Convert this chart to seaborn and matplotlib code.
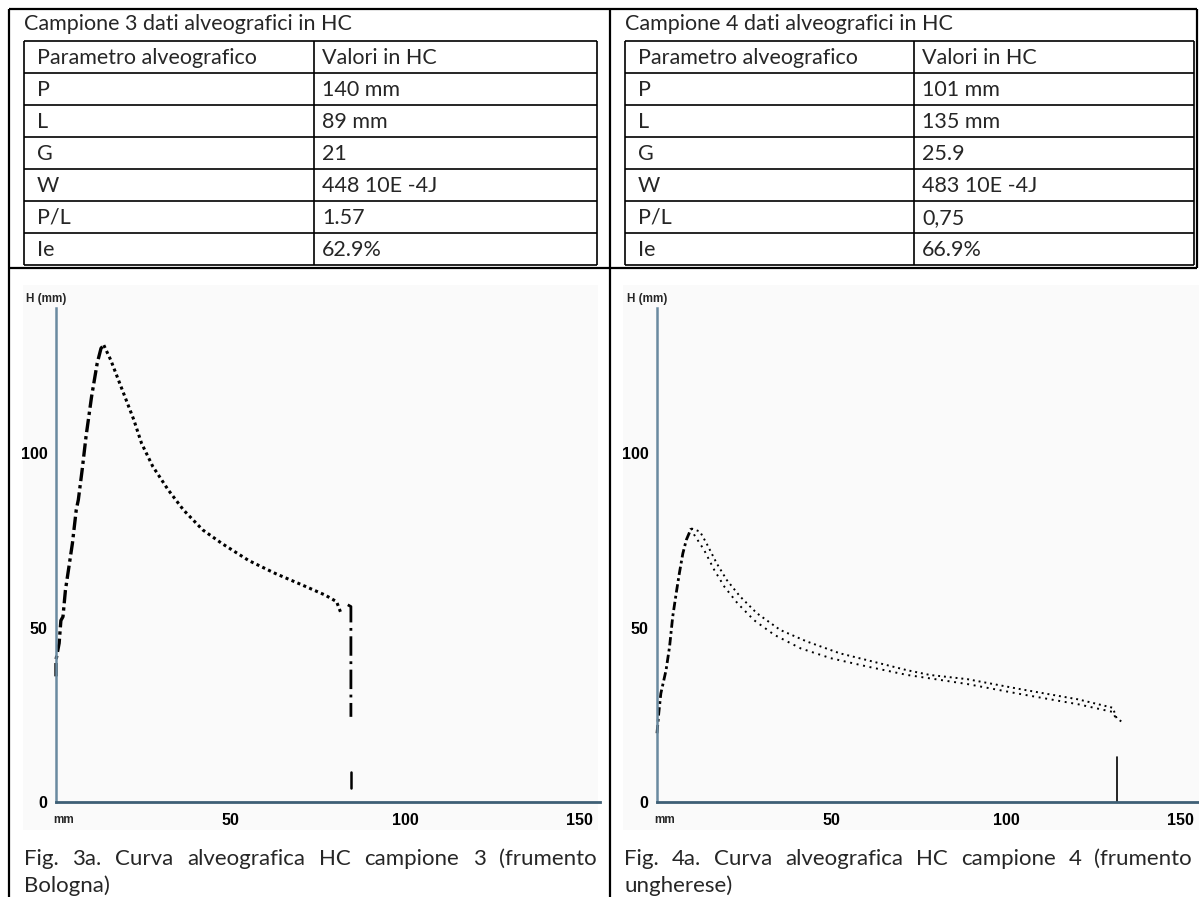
import matplotlib
matplotlib.use('Agg')
import matplotlib.pyplot as plt
import seaborn as sns
import pandas as pd

sns.set_theme(style='white')
plt.rcParams['font.family'] = ['Lato', 'DejaVu Sans']

# ---- table data ----
table_titles = ['Campione 3 dati alveografici in HC', 'Campione 4 dati alveografici in HC']
header = ['Parametro alveografico', 'Valori in HC']
param_names = ['P', 'L', 'G', 'W', 'P/L', 'Ie']
values_c3 = ['140 mm', '89 mm', '21', '448 10E -4J', '1.57', '62.9%']
values_c4 = ['101 mm', '135 mm', '25.9', '483 10E -4J', '0,75', '66.9%']

captions = [
    ['Fig. 3a. Curva alveografica HC campione 3 (frumento', 'Bologna)'],
    ['Fig. 4a. Curva alveografica HC campione 4 (frumento', 'ungherese)'],
]

# ---- curve data (mm) ----
c3_rise_x = [0, 0, 0.9, 1.4, 2.0, 2.7, 3.6, 4.7, 5.8, 6.4, 7.5, 8.6, 10.2, 11.8, 12.9, 13.7]
c3_rise_y = [36, 40.7, 45.5, 52, 53.1, 60.7, 66.7, 74.1, 83.7, 86.6, 95.2, 104.7, 116.2, 125.7, 130, 130.9]
c3_fall_x = [13.7, 15.7, 17.9, 20.1, 22.3, 24.5, 27.7, 32.1, 36.5, 42.0, 47.5, 55.2, 62.8, 70.5, 77.1, 80.4, 81.5]
c3_fall_y = [130.9, 126.6, 120.9, 115.2, 109.5, 102.8, 96.2, 89.5, 83.7, 78.0, 74.1, 69.2, 65.5, 62.2, 59.3, 57.4, 54.5]
c3_drop_x = [83.6, 84.5, 84.5]
c3_drop_y = [56.5, 56.0, 24.4]
c3_mark_x = [84.5, 84.5]
c3_mark_y = [8.7, 3.9]

c4_rise_x = [0, 0.5, 1.1, 2.6, 3.6, 4.5, 5.5, 6.4, 7.4, 8.4, 9.8]
c4_rise_y = [19.7, 25.4, 31.1, 37.8, 44.5, 53.1, 59.8, 65.5, 71.2, 75.1, 78.4]
c4_outer_x = [9.8, 12.3, 14.2, 17.1, 20.0, 23.8, 28.6, 35.3, 42.9, 52.4, 62.0, 71.5, 78.2, 88.9, 104.3, 120.7, 130.6, 131.7, 133.9]
c4_outer_y = [78.4, 77.5, 74.1, 68.4, 63.6, 58.9, 54.1, 49.3, 46.0, 42.6, 40.2, 37.8, 36.4, 35.2, 32.3, 29.4, 27.0, 24.0, 22.5]
c4_inner_x = [9.8, 10.7, 13.5, 16.4, 19.3, 23.1, 27.8, 33.6, 41.2, 49.8, 60.3, 71.7, 78.4, 88.9, 104.3, 120.7, 130.6, 131.7]
c4_inner_y = [78.4, 76.5, 72.2, 66.5, 61.7, 56.9, 52.1, 47.9, 44.0, 41.2, 38.8, 36.4, 35.4, 33.8, 30.9, 28.0, 25.8, 23.5]
c4_mark_x = [131.9, 131.9]
c4_mark_y = [0, 13]

W, H = 1199, 897
fig = plt.figure(figsize=(W / 100, H / 100), dpi=100)
bg = fig.add_axes([0, 0, 1, 1], zorder=0)
bg.set_xlim(0, W)
bg.set_ylim(H, 0)
bg.axis('off')

# faint scan background of the alveograms
bg.add_patch(plt.Rectangle((23, 285), 575, 545, color='#fafafa', lw=0))
bg.add_patch(plt.Rectangle((623, 285), 576, 545, color='#fafafa', lw=0))

# outer frame
frame_kw = dict(color='black', lw=1.6)
bg.vlines([9, 610], 9, H, **frame_kw)
bg.vlines([1197], 9, 268, **frame_kw)
bg.hlines([9, 268], 9, 1197, **frame_kw)

# parameter tables
row_h = 32
top = 41
table_fs = 15.5
for i, (left, col, right, vals) in enumerate([
        (24, 314, 597, values_c3), (625, 914, 1194, values_c4)]):
    bg.text(left, 24, table_titles[i], fontsize=table_fs, va='center', ha='left')
    bottom = top + row_h * 7
    bg.hlines([top + row_h * k for k in range(8)], left, right, color='black', lw=1.2)
    bg.vlines([left, col, right], top, bottom, color='black', lw=1.2)
    rows = [header] + [[p, v] for p, v in zip(param_names, vals)]
    for k, (a, b) in enumerate(rows):
        yc = top + row_h * k + row_h / 2 + 1
        bg.text(left + 13, yc, a, fontsize=table_fs, va='center', ha='left')
        bg.text(col + 8, yc, b, fontsize=table_fs, va='center', ha='left')

# justified captions
renderer = fig.canvas.get_renderer()
for (line1, line2), (xl, xr) in zip(captions, [(24, 597), (624, 1192)]):
    words = line1.split(' ')
    texts = [bg.text(0, 859, w, fontsize=16, va='center', ha='left') for w in words]
    widths = [t.get_window_extent(renderer).width for t in texts]
    gap = (xr - xl - sum(widths)) / (len(words) - 1)
    x = xl
    for t, w in zip(texts, widths):
        t.set_x(x)
        x += w + gap
    bg.text(xl, 886, line2, fontsize=16, va='center', ha='left')

# ---- alveograms ----
px = 3.49          # pixels per mm on both axes
y_zero = 802
y_top = 290
axis_col = '#3e5f75'
tick_font = dict(family='Liberation Sans', weight='bold', size=11.5)


def make_axes(x_zero, x_right):
    ax = fig.add_axes([x_zero / W, (H - y_zero) / H, (x_right - x_zero) / W, (y_zero - y_top) / H], zorder=2)
    ax.set_facecolor('none')
    ax.set_xlim(0, (x_right - x_zero) / px)
    ax.set_ylim(0, (y_zero - y_top) / px)
    for s in ('top', 'right'):
        ax.spines[s].set_visible(False)
    ax.spines['left'].set_color('#6a8aa0')
    ax.spines['left'].set_linewidth(1.8)
    ax.spines['left'].set_bounds(0, 141.5)
    ax.spines['bottom'].set_color(axis_col)
    ax.spines['bottom'].set_linewidth(2)
    ax.set_xticks([50, 100, 150])
    ax.set_xticklabels(['50', '100', '150'], fontdict=tick_font)
    ax.set_xticks(range(10, 160, 10), minor=True)
    ax.set_yticks([0, 50, 100])
    ax.set_yticklabels(['0', '50', '100'], fontdict=tick_font)
    ax.tick_params(axis='both', which='major', length=0, pad=6, colors='black')
    ax.tick_params(axis='x', which='minor', direction='inout', length=3, width=2.5, color=axis_col)
    ax.tick_params(axis='x', which='major', pad=8)
    ax.grid(False)
    fig.text((x_zero - 10) / W, (H - 299) / H, 'H (mm)', ha='center', va='center',
             family='Liberation Sans', weight='bold', size=8.5)
    fig.text((x_zero + 8) / W, (H - 820) / H, 'mm', ha='center', va='center',
             family='Liberation Sans', weight='bold', size=8.5)
    return ax


def trace(ax, xs, ys, **kw):
    df = pd.DataFrame({'x': xs, 'y': ys})
    sns.lineplot(data=df, x='x', y='y', ax=ax, estimator=None, sort=False,
                 color='black', clip_on=False, **kw)


ax3 = make_axes(56, 600)
trace(ax3, c3_rise_x, c3_rise_y, lw=2.4, linestyle=(0, (4, 1.2, 1, 1.2)))
trace(ax3, c3_fall_x, c3_fall_y, lw=2.2, linestyle=(0, (1, 1.1)))
trace(ax3, c3_drop_x, c3_drop_y, lw=2.0, linestyle=(0, (7, 2, 1, 2)))
trace(ax3, c3_mark_x, c3_mark_y, lw=1.8)

ax4 = make_axes(657, 1199)
trace(ax4, c4_rise_x, c4_rise_y, lw=2.0, linestyle=(0, (3, 1.2, 1, 1.2)))
trace(ax4, c4_outer_x, c4_outer_y, lw=1.4, linestyle=(0, (1, 2)))
trace(ax4, c4_inner_x, c4_inner_y, lw=1.4, linestyle=(0, (1, 2.4)))
trace(ax4, c4_mark_x, c4_mark_y, lw=1.2)

for ax in (ax3, ax4):
    ax.set_xlabel('')
    ax.set_ylabel('')

fig.savefig('out.png', dpi=100)
